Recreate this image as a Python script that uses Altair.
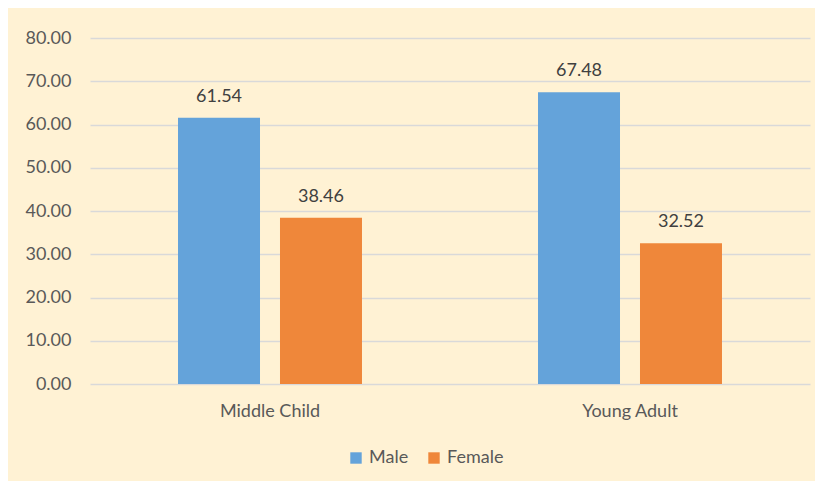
import altair as alt
import pandas as pd

categories = ["Middle Child", "Middle Child", "Young Adult", "Young Adult"]
genders = ["Male", "Female", "Male", "Female"]
values = [61.54, 38.46, 67.48, 32.52]

df = pd.DataFrame({"category": categories, "gender": genders, "value": values})

FONT = "Lato"
TXT = "#595959"
FS = 18

x = alt.X("category:N", sort=["Middle Child", "Young Adult"], title=None,
          scale=alt.Scale(paddingInner=0, paddingOuter=0),
          axis=alt.Axis(labelAngle=0, ticks=False, domain=False, labelPadding=18,
                        labelFontSize=FS, labelColor=TXT, labelFont=FONT))
xoff = alt.XOffset("gender:N", sort=["Male", "Female"],
                   scale=alt.Scale(paddingInner=0.196, paddingOuter=0.863))
y = alt.Y("value:Q", title=None,
          scale=alt.Scale(domain=[0, 80], nice=False),
          axis=alt.Axis(values=[0, 10, 20, 30, 40, 50, 60, 70, 80], format=".2f",
                        ticks=False, domain=False, labelPadding=19,
                        labelFontSize=FS, labelColor=TXT, labelFont=FONT,
                        gridColor="#D9D9D9", gridWidth=1.5))

color = alt.Color("gender:N", sort=["Male", "Female"], title=None,
                  scale=alt.Scale(domain=["Male", "Female"], range=["#64A3DA", "#EF873A"]),
                  legend=alt.Legend(orient="none", legendX=257, legendY=411, direction="horizontal",
                                    symbolType="square", symbolSize=130, symbolStrokeWidth=0,
                                    labelFontSize=FS, labelColor=TXT, labelFont=FONT,
                                    columnPadding=16, symbolOffset=0))

bars = alt.Chart(df).mark_bar().encode(x=x, xOffset=xoff, y=y, color=color)
labels = alt.Chart(df).mark_text(baseline="bottom", dy=-12, fontSize=FS, color="#404040", font=FONT).encode(
    x=x, xOffset=xoff, y=y, text=alt.Text("value:Q", format=".2f"))

chart = (bars + labels).properties(
    width=720, height=346, background="#FFF2D4",
    padding={"left": 82, "top": 30, "right": 5, "bottom": 97},
    autosize=alt.AutoSizeParams(type="none"),
).configure_view(stroke=None)

chart.save("out.html", embed_options={"renderer": "svg", "actions": False})
